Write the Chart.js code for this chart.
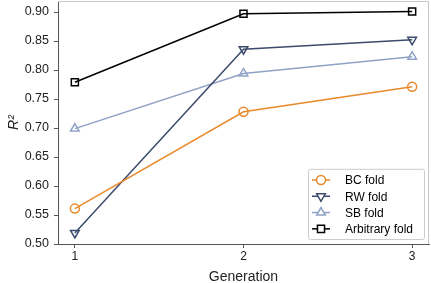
<!DOCTYPE html>
<html>
<head>
<meta charset="utf-8">
<script src="https://cdn.jsdelivr.net/npm/chart.js@4.4.0/dist/chart.umd.min.js"></script>
<style>
  html, body { margin: 0; padding: 0; background: #fff; }
  #wrap { width: 431px; height: 283px; }
</style>
</head>
<body>
<div id="wrap"><canvas id="chart" width="431" height="283"></canvas></div>
<script>
var generations = [1, 2, 3];
var yTicks = [0.5, 0.55, 0.6, 0.65, 0.7, 0.75, 0.8, 0.85, 0.9];

var bcFold = [0.561, 0.728, 0.771];
var rwFold = [0.519, 0.836, 0.852];
var sbFold = [0.699, 0.794, 0.823];
var arbitraryFold = [0.779, 0.897, 0.901];

var FONT = "'Liberation Sans', Arial, Helvetica, sans-serif";

function pts(vals) {
  return vals.map(function (v, i) { return { x: generations[i], y: v }; });
}

function series(label, vals, color, style, radius, rotation) {
  return {
    label: label,
    data: pts(vals),
    borderColor: color,
    backgroundColor: "rgba(0,0,0,0)",
    pointBorderColor: color,
    pointBackgroundColor: "rgba(0,0,0,0)",
    pointStyle: style,
    pointRadius: radius,
    pointRotation: rotation || 0,
    pointBorderWidth: 1.5,
    borderWidth: 1.5,
    tension: 0,
  };
}

// frame on top/right in light grey
var framePlugin = {
  id: "frame",
  afterDraw: function (chart) {
    var a = chart.chartArea, c = chart.ctx;
    c.save();
    c.strokeStyle = "#c8c8c8";
    c.lineWidth = 1;
    c.beginPath();
    c.moveTo(a.left, a.top + 0.5);
    c.lineTo(a.right - 0.5, a.top + 0.5);
    c.lineTo(a.right - 0.5, a.bottom);
    c.stroke();
    c.restore();
  },
};

// legend box inside the plot, bottom right
var legendPlugin = {
  id: "insideLegend",
  afterDraw: function (chart) {
    var c = chart.ctx, a = chart.chartArea;
    var ds = chart.data.datasets;
    var w = 116, rowH = 16.3, h = ds.length * rowH + 5;
    var x0 = a.right - 5 - w, y0 = a.bottom - 5 - h;
    c.save();
    c.fillStyle = "rgba(255,255,255,0.85)";
    c.strokeStyle = "#cccccc";
    c.lineWidth = 1;
    c.beginPath();
    c.roundRect(x0 + 0.5, y0 + 0.5, w, h, 2);
    c.fill();
    c.stroke();
    c.font = "12px " + FONT;
    c.textBaseline = "middle";
    ds.forEach(function (d, i) {
      var y = y0 + 3 + rowH * i + rowH / 2;
      c.strokeStyle = d.borderColor;
      c.lineWidth = 1.5;
      c.beginPath();
      c.moveTo(x0 + 4, y);
      c.lineTo(x0 + 22, y);
      c.stroke();
      c.fillStyle = "#ffffff";
      Chart.helpers.drawPoint(c, {
        pointStyle: d.pointStyle,
        radius: d.pointRadius,
        rotation: d.pointRotation,
        borderWidth: 1.5,
      }, x0 + 13, y);
      c.fillStyle = "#000";
      c.fillText(d.label, x0 + 37, y + 1);
    });
    c.restore();
  },
};

new Chart(document.getElementById("chart"), {
  type: "line",
  data: {
    datasets: [
      series("BC fold", bcFold, "#e8892b", "circle", 4.5),
      series("RW fold", rwFold, "#3c4b6c", "triangle", 5, 180),
      series("SB fold", sbFold, "#8fa2c6", "triangle", 5, 0),
      series("Arbitrary fold", arbitraryFold, "#000000", "rect", 5),
    ],
  },
  options: {
    responsive: false,
    animation: false,
    layout: { autoPadding: false, padding: { top: 1, right: 2, left: 0, bottom: 0 } },
    plugins: {
      legend: { display: false },
      tooltip: { enabled: false },
    },
    scales: {
      x: {
        type: "linear",
        min: 0.9,
        max: 3.1,
        afterBuildTicks: function (s) {
          s.ticks = generations.map(function (v) { return { value: v }; });
        },
        afterFit: function (s) {
          s.height = 39;
          s.paddingLeft = 0;
          s.paddingRight = 0;
        },
        grid: {
          display: true,
          drawOnChartArea: false,
          drawTicks: true,
          tickLength: 4,
          color: "#555",
        },
        border: { color: "#555", width: 1 },
        ticks: {
          color: "#222",
          font: { family: FONT, size: 12 },
          padding: 1,
          maxRotation: 0,
        },
        title: {
          display: true,
          text: "Generation",
          color: "#222",
          font: { family: FONT, size: 14 },
          padding: { top: 5, bottom: -3 },
        },
      },
      y: {
        min: 0.5,
        max: 0.919,
        afterBuildTicks: function (s) {
          s.ticks = yTicks.map(function (v) { return { value: v }; });
        },
        afterFit: function (s) {
          s.width = 58;
          s.paddingTop = 0;
          s.paddingBottom = 0;
        },
        grid: {
          display: true,
          drawOnChartArea: false,
          drawTicks: true,
          tickLength: 4,
          color: "#555",
        },
        border: { color: "#555", width: 1 },
        ticks: {
          color: "#222",
          font: { family: FONT, size: 12.5 },
          padding: 5,
          callback: function (v) { return v.toFixed(2); },
        },
        title: {
          display: true,
          text: "R²",
          color: "#222",
          font: { family: FONT, size: 14, style: "italic" },
          padding: { top: 6, bottom: 2 },
        },
      },
    },
  },
  plugins: [framePlugin, legendPlugin],
});
</script>
</body>
</html>
